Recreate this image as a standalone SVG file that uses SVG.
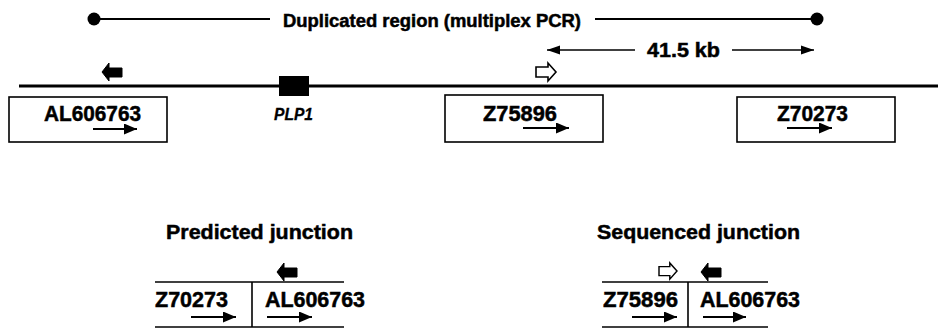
<svg xmlns="http://www.w3.org/2000/svg" width="938" height="329" viewBox="0 0 938 329">
<style>
  text { font-family: "Liberation Sans", Arial, sans-serif; font-weight: bold; fill: #000; stroke: #000; stroke-width: 0.5; }
  .big { font-size: 22px; }
  .hd { font-size: 21px; }
  .kb { font-size: 20px; }
  .mid { font-size: 17.5px; }
  .it { font-size: 16.5px; font-style: italic; stroke-width: 0.3; }
  .box { fill: #fff; stroke: #000; stroke-width: 1.6; }
  .ln { stroke: #000; fill: none; }
  .blk { fill: #000; stroke: #000; stroke-width: 1; }
  .wht { fill: #fff; stroke: #000; stroke-width: 1.6; }
</style>
<defs>
  <marker id="ah" markerWidth="13" markerHeight="11" refX="13" refY="5.5" orient="auto" markerUnits="userSpaceOnUse">
    <path d="M0,0 L13,5.5 L0,11 Z" fill="#000"/>
  </marker>
  <marker id="ah2" markerWidth="13" markerHeight="10" refX="13" refY="5" orient="auto" markerUnits="userSpaceOnUse">
    <path d="M0,0.5 L13,5 L0,9.5 Z" fill="#000"/>
  </marker>
  <path id="pBlack" d="M0,9 L7,0 L7,5 L20,5 L20,14 L7,14 L7,18 Z"/>
  <path id="pWhite" d="M0,4 L12,4 L12,0 L20,9 L12,18 L12,14 L0,14 Z"/>
</defs>

<g id="connectors">
  <line class="ln" x1="94" y1="19" x2="270" y2="19" stroke-width="2"/>
  <circle cx="94" cy="19" r="6.5" fill="#000"/>
  <line class="ln" x1="595" y1="19" x2="817" y2="19" stroke-width="2"/>
  <circle cx="817" cy="19" r="6.5" fill="#000"/>
  <line class="ln" x1="635" y1="50" x2="547" y2="50" stroke-width="1.6" marker-end="url(#ah2)"/>
  <line class="ln" x1="732" y1="50" x2="814" y2="50" stroke-width="1.6" marker-end="url(#ah2)"/>
  <line class="ln" x1="19" y1="86" x2="938" y2="86" stroke-width="3"/>
</g>

<g id="duplicated-label">
  <text class="mid" x="283" y="26.5" textLength="298" lengthAdjust="spacingAndGlyphs">Duplicated region (multiplex PCR)</text>
</g>
<g id="distance-label">
  <text class="kb" x="647" y="57" textLength="73" lengthAdjust="spacingAndGlyphs">41.5 kb</text>
</g>

<g id="primer-reverse">
  <use href="#pBlack" class="blk" x="102" y="63"/>
</g>
<g id="primer-forward">
  <use href="#pWhite" class="wht" x="536" y="63"/>
</g>

<g id="PLP1">
  <rect x="279" y="76" width="30" height="20" fill="#000"/>
  <text class="it" x="274" y="120" textLength="39" lengthAdjust="spacingAndGlyphs">PLP1</text>
</g>

<g id="AL606763">
  <rect class="box" x="9" y="97" width="158" height="45"/>
  <text class="big" x="44" y="121" textLength="97" lengthAdjust="spacingAndGlyphs">AL606763</text>
  <line class="ln" x1="93" y1="129" x2="137" y2="129" stroke-width="1.8" marker-end="url(#ah)"/>
</g>

<g id="Z75896">
  <rect class="box" x="445" y="95" width="158" height="47"/>
  <text class="big" x="483" y="121" textLength="74" lengthAdjust="spacingAndGlyphs">Z75896</text>
  <line class="ln" x1="523" y1="128" x2="569" y2="128" stroke-width="1.8" marker-end="url(#ah)"/>
</g>

<g id="Z70273">
  <rect class="box" x="737" y="97" width="158" height="45"/>
  <text class="big" x="777" y="121" textLength="71" lengthAdjust="spacingAndGlyphs">Z70273</text>
  <line class="ln" x1="787" y1="128" x2="832" y2="128" stroke-width="1.8" marker-end="url(#ah)"/>
</g>

<g id="predicted-junction">
  <text class="hd" x="166" y="239" textLength="187" lengthAdjust="spacingAndGlyphs">Predicted junction</text>
  <line class="ln" x1="155" y1="282" x2="344" y2="282" stroke-width="1.6"/>
  <line class="ln" x1="155" y1="327" x2="344" y2="327" stroke-width="1.6"/>
  <line class="ln" x1="252" y1="282" x2="252" y2="327" stroke-width="1.6"/>
  <use href="#pBlack" class="blk" x="277" y="263"/>
  <text class="big" x="155" y="307" textLength="73" lengthAdjust="spacingAndGlyphs">Z70273</text>
  <text class="big" x="265" y="307" textLength="100" lengthAdjust="spacingAndGlyphs">AL606763</text>
  <line class="ln" x1="191" y1="317" x2="236" y2="317" stroke-width="1.8" marker-end="url(#ah)"/>
  <line class="ln" x1="267" y1="317" x2="312" y2="317" stroke-width="1.8" marker-end="url(#ah)"/>
</g>

<g id="sequenced-junction">
  <text class="hd" x="597" y="239" textLength="203" lengthAdjust="spacingAndGlyphs">Sequenced junction</text>
  <line class="ln" x1="602" y1="282" x2="768" y2="282" stroke-width="1.6"/>
  <line class="ln" x1="602" y1="327" x2="768" y2="327" stroke-width="1.6"/>
  <line class="ln" x1="688" y1="282" x2="688" y2="327" stroke-width="1.6"/>
  <use href="#pWhite" class="wht" x="659" y="263" transform="translate(659 263) scale(0.9) translate(-659 -263)"/>
  <use href="#pBlack" class="blk" x="701" y="263"/>
  <text class="big" x="603" y="307" textLength="75" lengthAdjust="spacingAndGlyphs">Z75896</text>
  <text class="big" x="700" y="307" textLength="100" lengthAdjust="spacingAndGlyphs">AL606763</text>
  <line class="ln" x1="632" y1="317" x2="677" y2="317" stroke-width="1.8" marker-end="url(#ah)"/>
  <line class="ln" x1="703" y1="317" x2="746" y2="317" stroke-width="1.8" marker-end="url(#ah)"/>
</g>
</svg>
